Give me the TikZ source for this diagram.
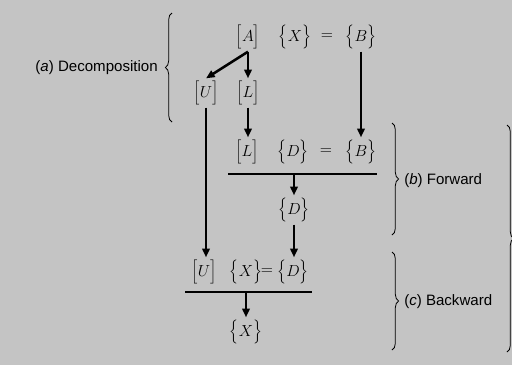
\documentclass[tikz,border=0pt]{standalone}
\usepackage{fontspec}
\setsansfont{Liberation Sans}
\usetikzlibrary{arrows.meta,decorations.pathreplacing}
\begin{document}
\begin{tikzpicture}[x=0.75pt,y=-0.75pt,
  m/.style={inner sep=0pt,outer sep=2pt,font=\fontsize{12}{14}\selectfont},
  arr/.style={line width=1.9pt,-{Triangle[length=6.5pt,width=5.5pt]}},
  rulel/.style={line width=0.9pt},
  brc/.style={decorate,decoration={brace,amplitude=5pt},line width=0.6pt},
  lab/.style={font=\sffamily\fontsize{11.3}{13}\selectfont,inner sep=0pt}]
\fill[black!23] (0,0) rectangle (512,365);
\useasboundingbox (0,0) rectangle (512,365);
% row 1
\node[m] (A)  at (248,37) {$\Big[A\Big]$};
\node[m] (X1) at (295,37) {$\Big\{X\Big\}$};
\node[m] (e1) at (327,37) {$=$};
\node[m] (B1) at (361,37) {$\Big\{B\Big\}$};
\node[m] (U1) at (206,93) {$\Big[U\Big]$};
\node[m] (L1) at (248,93) {$\Big[L\Big]$};
% row 2
\node[m] (L2) at (247,152) {$\Big[L\Big]$};
\node[m] (D2) at (293,152) {$\Big\{D\Big\}$};
\node[m] (e2) at (326,152) {$=$};
\node[m] (B2) at (361,152) {$\Big\{B\Big\}$};
\coordinate (r1a) at (228,174);
\coordinate (r1b) at (377,174);
\node[m] (D3) at (294,210) {$\Big\{D\Big\}$};
% row 3
\node[m] (U3) at (204,272) {$\Big[U\Big]$};
\node[m] (X3) at (246,272) {$\Big\{X\Big\}$};
\node[m] (e3) at (267,272) {$=$};
\node[m] (D4) at (293,272) {$\Big\{D\Big\}$};
\coordinate (r2a) at (185,292);
\coordinate (r2b) at (312,292);
\node[m] (X5) at (246,332) {$\Big\{X\Big\}$};
% rules
\draw[rulel] (r1a) -- (r1b);
\draw[rulel] (r2a) -- (r2b);
% arrows
\draw[arr] (A.south) -- (U1.north);
\draw[arr] (A.south) -- (L1.north);
\draw[arr] (B1.south) -- (B1.south |- B2.north);
\draw[arr] (L1.south) -- (L1.south |- L2.north);
\draw[arr] (U1.south) -- (U1.south |- U3.north);
\draw[arr] (D3 |- r1a) -- (D3.north);
\draw[arr] (D3.south) -- (D3.south |- D4.north);
\draw[arr] (X5 |- r2a) -- (X5.north);
% braces
\coordinate (ba1) at (172,122);
\coordinate (ba2) at (172,13);
\draw[brc] (ba1) -- (ba2);
\node[lab,anchor=east] (la) at (158,68) {(\textit{a}) Decomposition};
\coordinate (bb1) at (392,123);
\coordinate (bb2) at (392,235);
\draw[brc] (bb1) -- (bb2);
\node[lab,anchor=west] (lb) at (404,181) {(\textit{b}) Forward};
\coordinate (bc1) at (392,252);
\coordinate (bc2) at (392,350);
\draw[brc] (bc1) -- (bc2);
\node[lab,anchor=west] (lc) at (404,302) {(\textit{c}) Backward};
\coordinate (bd1) at (507,125);
\coordinate (bd2) at (507,352);
\draw[brc] (bd1) -- (bd2);
\end{tikzpicture}
\end{document}
